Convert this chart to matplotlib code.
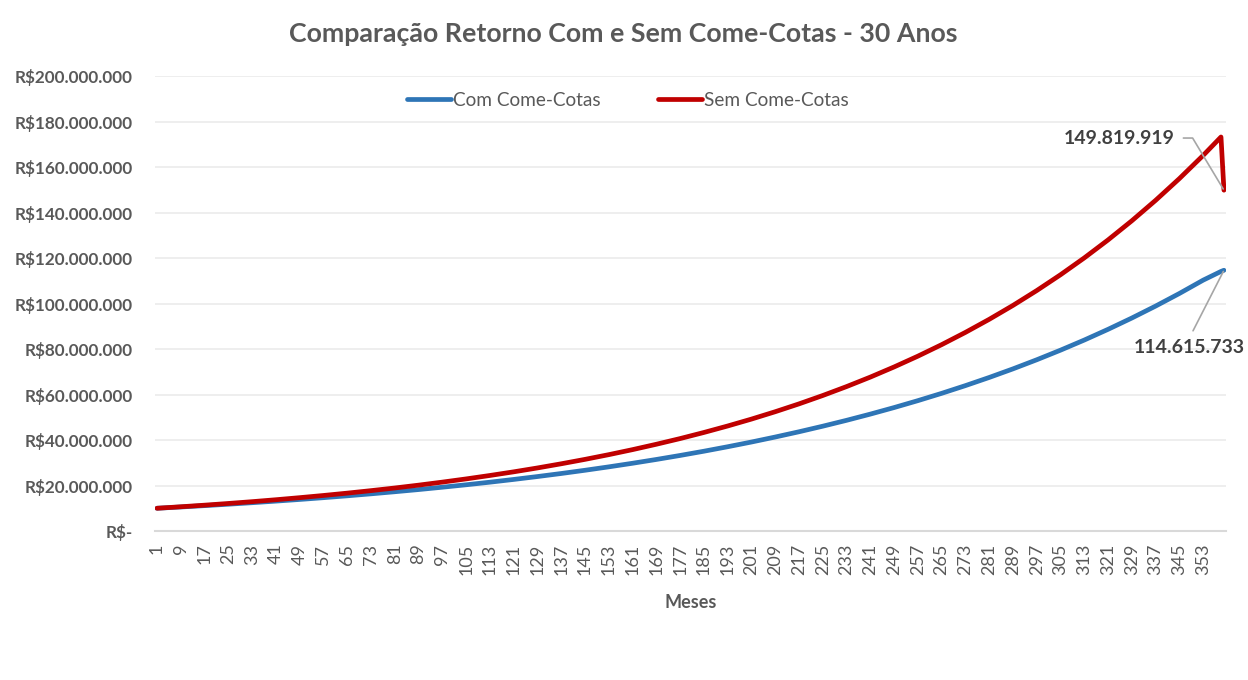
import matplotlib
matplotlib.use("Agg")
import matplotlib.pyplot as plt
from matplotlib.ticker import FuncFormatter

plt.rcParams['font.family'] = ['Lato', 'DejaVu Sans']

# meses (um ponto a cada rotulo do eixo + final)
meses = [1, 9, 17, 25, 33, 41, 49, 57, 65, 73, 81, 89, 97, 105, 113, 121,
         129, 137, 145, 153, 161, 169, 177, 185, 193, 201, 209, 217, 225,
         233, 241, 249, 257, 265, 273, 281, 289, 297, 305, 313, 321, 329,
         337, 345, 353, 359, 360]

# valores em milhoes de R$ (estimados a partir da imagem)
com_come_cotas = [10.00, 10.56, 11.15, 11.78, 12.44, 13.14, 13.87, 14.65,
                  15.47, 16.34, 17.26, 18.22, 19.25, 20.32, 21.46, 22.67,
                  23.94, 25.28, 26.70, 28.20, 29.78, 31.45, 33.21, 35.07,
                  37.04, 39.11, 41.31, 43.62, 46.07, 48.65, 51.38, 54.26,
                  57.30, 60.51, 63.91, 67.49, 71.27, 75.27, 79.49, 83.94,
                  88.65, 93.62, 98.87, 104.41, 110.27, 114.10, 114.615733]
sem_come_cotas = [10.00, 10.66, 11.36, 12.11, 12.90, 13.75, 14.66, 15.62,
                  16.65, 17.75, 18.91, 20.16, 21.49, 22.90, 24.41, 26.01,
                  27.72, 29.55, 31.49, 33.56, 35.77, 38.13, 40.63, 43.31,
                  46.16, 49.19, 52.43, 55.88, 59.56, 63.48, 67.65, 72.11,
                  76.85, 81.91, 87.30, 93.04, 99.16, 105.69, 112.64, 120.05,
                  127.95, 136.37, 145.35, 154.91, 165.10, 173.20, 149.819919]

rotulos_x = list(range(1, 354, 8))
ticks_y = [0, 20e6, 40e6, 60e6, 80e6, 100e6, 120e6, 140e6, 160e6, 180e6, 200e6]

cinza = '#595959'
azul = '#2E75B6'
vermelho = '#C00000'


def reais(v, pos):
    if v == 0:
        return 'R$-'
    return 'R$' + f'{v:,.0f}'.replace(',', '.')


def br(v):
    return f'{v:,.0f}'.replace(',', '.')


fig = plt.figure(figsize=(12.48, 6.8), dpi=100)
ax = fig.add_axes([0.1242, 0.2191, 0.8582, 0.6691])

com = [v * 1e6 for v in com_come_cotas]
sem = [v * 1e6 for v in sem_come_cotas]

ax.plot(meses, com, color=azul, lw=3.4, label='Com Come-Cotas',
        solid_capstyle='round', solid_joinstyle='round')
ax.plot(meses, sem, color=vermelho, lw=3.4, label='Sem Come-Cotas',
        solid_capstyle='round', solid_joinstyle='round')

ax.set_xlim(0.33, 360.7)
ax.set_ylim(0, 200e6)
ax.set_yticks(ticks_y)
ax.yaxis.set_major_formatter(FuncFormatter(reais))
ax.set_xticks(rotulos_x)
ax.set_xticklabels([str(m) for m in rotulos_x], rotation=90)

ax.tick_params(axis='y', length=0, pad=16, labelsize=12.3, labelcolor=cinza)
ax.tick_params(axis='x', length=0, pad=9, labelsize=13, labelcolor=cinza)
for t in ax.get_yticklabels():
    t.set_fontweight('bold')

ax.grid(axis='y', color='#EBEBEB', lw=1.2)
ax.set_axisbelow(True)
for s in ['top', 'right', 'left']:
    ax.spines[s].set_visible(False)
ax.spines['bottom'].set_color('#D9D9D9')
ax.spines['bottom'].set_linewidth(1.5)

ax.set_xlabel('Meses', fontsize=13, fontweight='bold', color=cinza, labelpad=14)
fig.text(0.499, 0.95, 'Comparação Retorno Com e Sem Come-Cotas - 30 Anos',
         ha='center', va='center', fontsize=19.3, fontweight='bold', color=cinza)

leg = ax.legend(loc='center', bbox_to_anchor=(0.4416, 0.947), ncol=2, frameon=False,
                fontsize=13.7, handlelength=2.3, handletextpad=0.12, columnspacing=3.0)
for t in leg.get_texts():
    t.set_color(cinza)

# rotulos dos valores finais
ax.annotate(br(sem[-1]), xy=(meses[-1], sem[-1]), xycoords='data',
            xytext=(0.9524, 0.8637), textcoords='axes fraction',
            ha='right', va='center', fontsize=14, fontweight='bold', color='#404040',
            annotation_clip=False,
            arrowprops=dict(arrowstyle='-', color='#A6A6A6', lw=1.2,
                            relpos=(1, 0.5), shrinkA=4, shrinkB=1,
                            connectionstyle='angle,angleA=0,angleB=121,rad=0'))
ax.annotate(br(com[-1]), xy=(meses[-1], com[-1]), xycoords='data',
            xytext=(0.9655, 0.4044), textcoords='axes fraction',
            ha='center', va='center', fontsize=14, fontweight='bold', color='#404040',
            annotation_clip=False,
            arrowprops=dict(arrowstyle='-', color='#A6A6A6', lw=1.2,
                            relpos=(0.5, 1), shrinkA=4, shrinkB=1))

fig.savefig('out.png', dpi=100)
